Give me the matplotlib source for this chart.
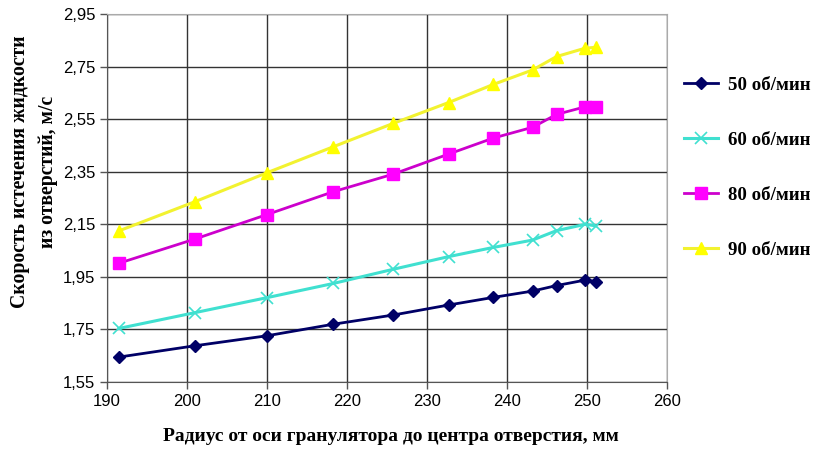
import matplotlib
matplotlib.use("Agg")
import matplotlib.pyplot as plt
from matplotlib.ticker import FuncFormatter
import numpy as np

radius = [191.5, 201, 210, 218.3, 225.8, 232.7, 238.3, 243.2, 246.2, 249.8, 251.1]

v50 = [1.645, 1.688, 1.726, 1.770, 1.805, 1.843, 1.872, 1.896, 1.917, 1.938, 1.932]
v60 = [1.754, 1.814, 1.871, 1.925, 1.979, 2.027, 2.062, 2.090, 2.126, 2.150, 2.144]
v80 = [2.002, 2.094, 2.187, 2.274, 2.341, 2.417, 2.478, 2.519, 2.568, 2.597, 2.595]
v90 = [2.125, 2.236, 2.346, 2.445, 2.534, 2.613, 2.682, 2.737, 2.788, 2.820, 2.823]

labels = ["50 об/мин", "60 об/мин", "80 об/мин", "90 об/мин"]

fig = plt.figure(figsize=(8.19, 4.5), dpi=100)
ax = fig.add_axes([0.1306, 0.151, 0.6838, 0.818])

ax.plot(radius, v50, color="#000066", marker="D", markersize=6, lw=2, label=labels[0], zorder=3)
ax.plot(radius, v60, color="#40E0D0", marker="x", markersize=8, mew=1.2, lw=2.2, label=labels[1], zorder=3)
ax.plot(radius, v80, color="#CC00CC", marker="s", markersize=8, mfc="#FF00FF", mec="#FF00FF",
        lw=2, label=labels[2], zorder=3)
ax.plot(radius, v90, color="#F2F230", marker="^", markersize=8, mfc="#FFFF00", mec="#FFFF00",
        lw=2.2, label=labels[3], zorder=3)

ax.set_xlim(190, 260)
ax.set_ylim(1.55, 2.95)
ax.set_xticks(np.arange(190, 261, 10))
ax.set_yticks(np.arange(1.55, 2.96, 0.2))
ax.yaxis.set_major_formatter(FuncFormatter(lambda v, p: f"{v:.2f}".replace(".", ",")))
ax.grid(True, color="#333333", lw=1.0, zorder=0)
ax.tick_params(direction="out", length=5, width=1, color="#555555", labelsize=12)
for lab in ax.get_xticklabels() + ax.get_yticklabels():
    lab.set_family("Liberation Sans")
for s in ["top", "right"]:
    ax.spines[s].set_color("#aaaaaa")
for s in ["left", "bottom"]:
    ax.spines[s].set_color("#555555")

fig.text(391 / 819, 0.029, "Радиус от оси гранулятора до центра отверстия, мм",
         family="Liberation Serif", fontweight="bold", fontsize=14, ha="center", va="center")
fig.text(34 / 819, 1 - 172 / 450, "Скорость истечения жидкости\nиз отверстий, м/с",
         family="Liberation Serif", fontweight="bold", fontsize=14.2, ha="center", va="center",
         rotation=90, multialignment="center", linespacing=1.55)

fig.legend(loc="center left", bbox_to_anchor=(0.815, 0.627), frameon=False,
           prop={"family": "Liberation Serif", "weight": "bold", "size": 13.6},
           labelspacing=2.0, handlelength=1.75, handletextpad=0.55)

fig.savefig("out.png", dpi=100)
